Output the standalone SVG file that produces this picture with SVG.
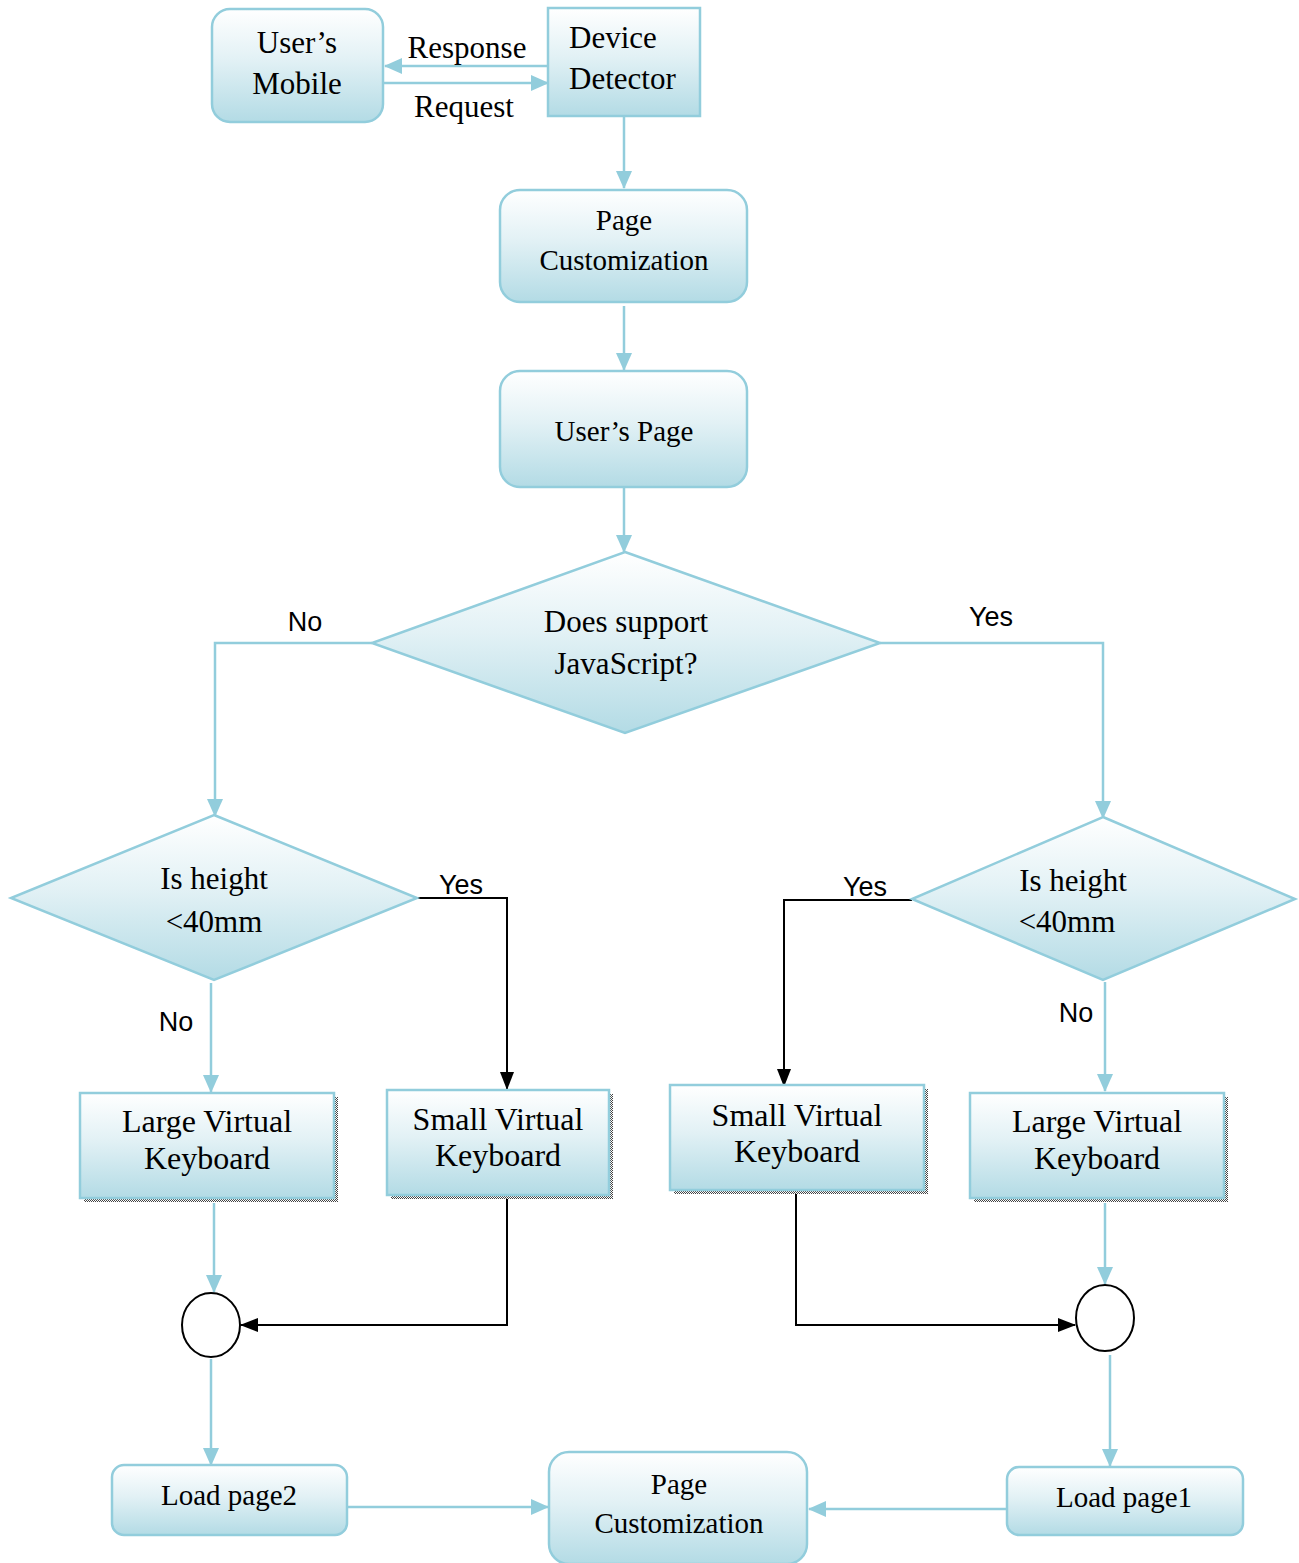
<svg xmlns="http://www.w3.org/2000/svg" width="1299" height="1563" viewBox="0 0 1299 1563">
  <defs>
    <linearGradient id="fillGrad" x1="0" y1="0" x2="0" y2="1">
      <stop offset="0" stop-color="#ffffff"/>
      <stop offset="0.45" stop-color="#e2f1f5"/>
      <stop offset="1" stop-color="#b3dbe5"/>
    </linearGradient>
    <pattern id="shadowDots" width="2" height="2" patternUnits="userSpaceOnUse">
      <rect width="2" height="2" fill="#ffffff"/>
      <rect width="1" height="1" fill="#444444"/>
      <rect x="1" y="1" width="1" height="1" fill="#444444"/>
    </pattern>
    <marker id="arrowBlue" markerUnits="userSpaceOnUse" markerWidth="20" markerHeight="20" refX="17" refY="10" orient="auto">
      <path d="M0,2 L18,10 L0,18 Z" fill="#92cddc"/>
    </marker>
    <marker id="arrowBlack" markerUnits="userSpaceOnUse" markerWidth="20" markerHeight="20" refX="17" refY="10" orient="auto">
      <path d="M0,3 L18,10 L0,17 Z" fill="#000000"/>
    </marker>
  </defs>
  <style>
    .box { fill: url(#fillGrad); stroke: #92cddc; stroke-width: 2.5; }
    .shadow { fill: url(#shadowDots); }
    .lbl { font-family: "Liberation Serif", "Times New Roman", serif; font-size: 31px; fill: #000; text-anchor: middle; }
    .kb { font-family: "Liberation Serif", "Times New Roman", serif; font-size: 32px; fill: #000; text-anchor: middle; }
    .lbl29 { font-family: "Liberation Serif", "Times New Roman", serif; font-size: 29px; fill: #000; text-anchor: middle; }
    .left { text-anchor: start; }
    .tag { font-family: "Liberation Sans", Arial, sans-serif; font-size: 27px; fill: #000; text-anchor: middle; }
    .blue { fill: none; stroke: #92cddc; stroke-width: 2.5; }
    .black { fill: none; stroke: #000; stroke-width: 2; }
    .join { fill: #fff; stroke: #000; stroke-width: 2; }
  </style>

  <!-- connectors and their labels -->
  <g id="connectors">
    <line class="blue" x1="548" y1="66" x2="385" y2="66" marker-end="url(#arrowBlue)"/>
    <line class="blue" x1="383" y1="83" x2="548" y2="83" marker-end="url(#arrowBlue)"/>
    <line class="blue" x1="624" y1="116" x2="624" y2="188" marker-end="url(#arrowBlue)"/>
    <line class="blue" x1="624" y1="306" x2="624" y2="370" marker-end="url(#arrowBlue)"/>
    <line class="blue" x1="624" y1="488" x2="624" y2="552" marker-end="url(#arrowBlue)"/>
    <polyline class="blue" points="372,643 215,643 215,816" marker-end="url(#arrowBlue)"/>
    <polyline class="blue" points="880,643 1103,643 1103,818" marker-end="url(#arrowBlue)"/>
    <polyline class="black" points="417,898 507,898 507,1089" marker-end="url(#arrowBlack)"/>
    <line class="blue" x1="211" y1="983" x2="211" y2="1092" marker-end="url(#arrowBlue)"/>
    <polyline class="black" points="912,900 784,900 784,1086" marker-end="url(#arrowBlack)"/>
    <line class="blue" x1="1105" y1="982" x2="1105" y2="1091" marker-end="url(#arrowBlue)"/>
    <line class="blue" x1="214" y1="1203" x2="214" y2="1292" marker-end="url(#arrowBlue)"/>
    <polyline class="black" points="507,1199 507,1325 241,1325" marker-end="url(#arrowBlack)"/>
    <line class="blue" x1="1105" y1="1203" x2="1105" y2="1284" marker-end="url(#arrowBlue)"/>
    <polyline class="black" points="796,1194 796,1325 1075,1325" marker-end="url(#arrowBlack)"/>
    <line class="blue" x1="211" y1="1359" x2="211" y2="1465" marker-end="url(#arrowBlue)"/>
    <line class="blue" x1="1110" y1="1355" x2="1110" y2="1466" marker-end="url(#arrowBlue)"/>
    <line class="blue" x1="347" y1="1507" x2="548" y2="1507" marker-end="url(#arrowBlue)"/>
    <line class="blue" x1="1007" y1="1509" x2="809" y2="1509" marker-end="url(#arrowBlue)"/>
    <text class="lbl" x="467" y="58">Response</text>
    <text class="lbl" x="464" y="117">Request</text>
    <text class="tag" x="305" y="631">No</text>
    <text class="tag" x="991" y="626">Yes</text>
    <text class="tag" x="461" y="894">Yes</text>
    <text class="tag" x="865" y="896">Yes</text>
    <text class="tag" x="176" y="1031">No</text>
    <text class="tag" x="1076" y="1022">No</text>
  </g>

  <g id="users-mobile">
    <rect class="box" x="212" y="9" width="171" height="113" rx="18"/>
    <text class="lbl" x="297" y="53">User’s</text>
    <text class="lbl" x="297" y="94">Mobile</text>
  </g>

  <g id="device-detector">
    <rect class="box" x="548" y="8" width="152" height="108"/>
    <text class="lbl left" x="569" y="48">Device</text>
    <text class="lbl left" x="569" y="89">Detector</text>
  </g>

  <g id="page-customization-top">
    <rect class="box" x="500" y="190" width="247" height="112" rx="20"/>
    <text class="lbl29" x="624" y="230">Page</text>
    <text class="lbl29" x="624" y="270">Customization</text>
  </g>

  <g id="users-page">
    <rect class="box" x="500" y="371" width="247" height="116" rx="20"/>
    <text class="lbl29" x="624" y="441">User’s Page</text>
  </g>

  <g id="js-decision">
    <polygon class="box" points="625,552 880,643 625,733 372,643"/>
    <text class="lbl" x="626" y="632">Does support</text>
    <text class="lbl" x="626" y="674">JavaScript?</text>
  </g>

  <g id="height-decision-left">
    <polygon class="box" points="214,815 417,898 214,980 11,898"/>
    <text class="lbl" x="214" y="889">Is height</text>
    <text class="lbl" x="214" y="932">&lt;40mm</text>
  </g>

  <g id="height-decision-right">
    <polygon class="box" points="1103,817 1295,899 1103,980 912,899"/>
    <text class="lbl" x="1073" y="891">Is height</text>
    <text class="lbl" x="1067" y="932">&lt;40mm</text>
  </g>

  <g id="large-keyboard-left">
    <rect class="shadow" x="84" y="1097" width="254" height="105"/>
    <rect class="box" x="80" y="1093" width="254" height="105"/>
    <text class="kb" x="207" y="1132">Large Virtual</text>
    <text class="kb" x="207" y="1169">Keyboard</text>
  </g>

  <g id="small-keyboard-left">
    <rect class="shadow" x="391" y="1094" width="222" height="105"/>
    <rect class="box" x="387" y="1090" width="222" height="105"/>
    <text class="kb" x="498" y="1130">Small Virtual</text>
    <text class="kb" x="498" y="1166">Keyboard</text>
  </g>

  <g id="small-keyboard-right">
    <rect class="shadow" x="674" y="1089" width="254" height="105"/>
    <rect class="box" x="670" y="1085" width="254" height="105"/>
    <text class="kb" x="797" y="1126">Small Virtual</text>
    <text class="kb" x="797" y="1162">Keyboard</text>
  </g>

  <g id="large-keyboard-right">
    <rect class="shadow" x="974" y="1097" width="254" height="105"/>
    <rect class="box" x="970" y="1093" width="254" height="105"/>
    <text class="kb" x="1097" y="1132">Large Virtual</text>
    <text class="kb" x="1097" y="1169">Keyboard</text>
  </g>

  <g id="join-left">
    <ellipse class="join" cx="211" cy="1325" rx="29" ry="32"/>
  </g>

  <g id="join-right">
    <ellipse class="join" cx="1105" cy="1318" rx="29" ry="33"/>
  </g>

  <g id="load-page2">
    <rect class="box" x="112" y="1465" width="235" height="70" rx="12"/>
    <text class="lbl29" x="229" y="1505">Load page2</text>
  </g>

  <g id="page-customization-bottom">
    <rect class="box" x="549" y="1452" width="258" height="112" rx="20"/>
    <text class="lbl29" x="679" y="1494">Page</text>
    <text class="lbl29" x="679" y="1533">Customization</text>
  </g>

  <g id="load-page1">
    <rect class="box" x="1007" y="1467" width="236" height="68" rx="12"/>
    <text class="lbl29" x="1124" y="1507">Load page1</text>
  </g>
</svg>
